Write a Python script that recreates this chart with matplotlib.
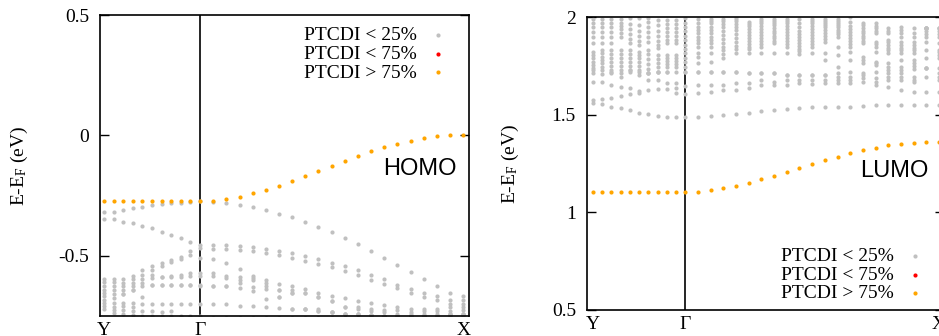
import matplotlib
matplotlib.use("Agg")
import matplotlib.pyplot as plt

plt.rcParams['font.family'] = ['Liberation Serif', 'DejaVu Serif']
plt.rcParams['mathtext.fontset'] = 'custom'
plt.rcParams['mathtext.rm'] = 'Liberation Serif'
plt.rcParams['mathtext.it'] = 'Liberation Serif:italic'
plt.rcParams['axes.unicode_minus'] = False

# ---------------- data ----------------
k_path = [0.000, 0.100, 0.200, 0.300, 0.400, 0.500, 0.600, 0.700, 0.800, 0.900, 1.000,
          1.137, 1.274, 1.411, 1.548, 1.685, 1.822, 1.959, 2.096, 2.233, 2.370,
          2.507, 2.644, 2.781, 2.918, 3.055, 3.192, 3.329, 3.466, 3.603, 3.740]
k_tick_pos = [0.0, 1.0, 3.74]
k_tick_labels = ['Y', 'Γ', 'X']

legend_labels = ['PTCDI < 25%', 'PTCDI < 75%', 'PTCDI > 75%']

# HOMO panel
homo_orange = [-0.271, -0.271, -0.271, -0.271, -0.271, -0.271, -0.271, -0.271, -0.271, -0.271, -0.271,
               -0.271, -0.263, -0.254, -0.241, -0.226, -0.209, -0.190, -0.169, -0.149, -0.127,
               -0.106, -0.085, -0.066, -0.048, -0.034, -0.022, -0.011, -0.003, 0.000, 0.000]
h_a = [-0.320, -0.317, -0.310, -0.303, -0.296, -0.289, -0.285, -0.282, -0.280, -0.277, -0.273,
       -0.276, -0.280, -0.289, -0.299, -0.310, -0.326, -0.340, -0.361, -0.381, -0.403,
       -0.428, -0.452, -0.481, -0.508, -0.537, -0.566, -0.596, -0.626, -0.653, -0.668]
h_b = [-0.346, -0.348, -0.358, -0.365, -0.376, -0.386, -0.402, -0.413, -0.427, -0.443, -0.455,
       -0.455, -0.455, -0.459, -0.465, -0.472, -0.482, -0.489, -0.500, -0.514, -0.528,
       -0.544, -0.561, -0.580, -0.596, -0.620, -0.638, -0.654, -0.668, -0.684, -0.684]
h_c = [-0.596, -0.596, -0.596, -0.583, -0.558, -0.544, -0.530, -0.519, -0.503, -0.482, -0.468,
       -0.472, -0.472, -0.476, -0.482, -0.489, -0.496, -0.510, -0.521, -0.534, -0.547,
       -0.565, -0.578, -0.599, -0.616, -0.635, -0.654, -0.671, -0.684, -0.702, -0.702]
h_d = [-0.610, -0.610, -0.613, -0.596, -0.579, -0.558, -0.541, -0.525, -0.514, -0.496, -0.510,
       -0.514, -0.528, -0.554, -0.583, -0.602, -0.616, -0.627, -0.638, -0.654, -0.665,
       -0.675, -0.688, -0.698, -0.706, -0.712, -0.720, -0.720, -0.720, -0.712, -0.712]
h_e = [-0.627, -0.627, -0.627, -0.613, -0.596, -0.579, -0.588, -0.585, -0.579, -0.572, -0.572,
       -0.572, -0.583, -0.588, -0.592, -0.613, -0.640, -0.640, -0.654, -0.671, -0.688,
       -0.712, -0.712, -0.720, -0.726, -0.726, -0.734, -0.730, -0.730, -0.730, -0.726]
h_f = [-0.640, -0.640, -0.640, -0.627, -0.613, -0.592, -0.590, -0.587, -0.588, -0.583, -0.585,
       -0.583, -0.592, -0.599, -0.602, -0.624, -0.671, -0.654, -0.723, -0.730, -0.734,
       -0.740, -0.740, -0.744, -0.748, -0.748, -0.748, -0.740, -0.740, -0.740, -0.740]
h_g = [-0.654, -0.657, -0.657, -0.640, -0.627, -0.620, -0.620, -0.620, -0.620, -0.620, -0.620,
       -0.624, -0.627, -0.613, -0.629, -0.638, -0.640, -0.654, -0.654, -0.671, -0.688,
       -0.712, -0.720, -0.730, -0.734, -0.740, -0.740, -0.748, -0.748, -0.740, -0.740]
h_g2 = [-0.668, -0.675, -0.657, -0.640, -0.671, -0.620, -0.620, -0.620, -0.620, -0.620, -0.624,
        -0.624, -0.627, -0.634, -0.647, -0.679, -0.671, -0.719, -0.723, -0.723, -0.734,
        -0.740, -0.740, -0.744, -0.748, -0.748, -0.748, -0.748, -0.748, -0.748, -0.748]
h_h = [-0.682, -0.696, -0.696, -0.696, -0.702, -0.702, -0.702, -0.702, -0.702, -0.702, -0.702,
       -0.702, -0.702, -0.709, -0.709, -0.712, -0.716, -0.719, -0.723, -0.730, -0.734,
       -0.740, -0.740, -0.744, -0.748, -0.748, -0.748, -0.748, -0.748, -0.740, -0.740]
h_i = [-0.696, -0.712, -0.709, -0.712, -0.730, -0.730, -0.734, -0.730, -0.748, -0.748, -0.748,
       -0.760, -0.760, -0.760, -0.760, -0.760, -0.760, -0.760, -0.760, -0.760, -0.760,
       -0.760, -0.760, -0.760, -0.760, -0.760, -0.760, -0.760, -0.760, -0.760, -0.760]
h_j = [-0.709, -0.726, -0.726, -0.730, -0.748, -0.748, -0.748, -0.748, -0.760, -0.760, -0.760,
       -0.760, -0.760, -0.760, -0.760, -0.760, -0.760, -0.760, -0.760, -0.760, -0.760,
       -0.760, -0.760, -0.760, -0.760, -0.760, -0.760, -0.760, -0.760, -0.760, -0.760]
h_k = [-0.723, -0.737, -0.740, -0.745, -0.760, -0.760, -0.760, -0.760, -0.760, -0.760, -0.760,
       -0.760, -0.760, -0.760, -0.760, -0.760, -0.760, -0.760, -0.760, -0.760, -0.760,
       -0.760, -0.760, -0.760, -0.760, -0.760, -0.760, -0.760, -0.760, -0.760, -0.760]
homo_grey = [h_a, h_b, h_c, h_d, h_e, h_f, h_g, h_g2, h_h, h_i, h_j, h_k]

# LUMO panel
lumo_orange = [1.106, 1.106, 1.106, 1.106, 1.106, 1.106, 1.106, 1.106, 1.106, 1.106, 1.105,
               1.106, 1.113, 1.124, 1.137, 1.153, 1.170, 1.188, 1.207, 1.228, 1.248,
               1.267, 1.286, 1.303, 1.318, 1.332, 1.344, 1.351, 1.358, 1.361, 1.363]
l_1 = [1.559, 1.554, 1.542, 1.534, 1.525, 1.511, 1.503, 1.494, 1.491, 1.487, 1.487,
       1.491, 1.494, 1.499, 1.504, 1.511, 1.522, 1.525, 1.530, 1.534, 1.539,
       1.539, 1.542, 1.542, 1.545, 1.551, 1.551, 1.551, 1.551, 1.551, 1.551]
l_2 = [1.576, 1.580, 1.588, 1.597, 1.605, 1.610, 1.628, 1.631, 1.631, 1.610, 1.607,
       1.610, 1.619, 1.627, 1.627, 1.636, 1.653, 1.653, 1.653, 1.662, 1.658,
       1.662, 1.662, 1.662, 1.670, 1.653, 1.641, 1.627, 1.619, 1.619, 1.619]
l_3 = [1.670, 1.670, 1.653, 1.641, 1.636, 1.624, 1.679, 1.679, 1.662, 1.636, 1.648,
       1.653, 1.653, 1.653, 1.665, 1.665, 1.679, 1.670, 1.679, 1.679, 1.679,
       1.679, 1.679, 1.679, 1.687, 1.670, 1.679, 1.679, 1.670, 1.696, 1.679]
l_4 = [1.713, 1.710, 1.713, 1.696, 1.720, 1.704, 1.713, 1.722, 1.722, 1.665, 1.722,
       1.721, 1.721, 1.721, 1.721, 1.713, 1.713, 1.713, 1.704, 1.704, 1.705,
       1.705, 1.696, 1.696, 1.705, 1.687, 1.696, 1.696, 1.679, 1.739, 1.696]
l_5 = [1.730, 1.730, 1.720, 1.715, 1.730, 1.720, 1.713, 1.722, 1.722, 1.722, 1.722,
       1.721, 1.721, 1.721, 1.721, 1.713, 1.713, 1.713, 1.704, 1.704, 1.705,
       1.705, 1.713, 1.721, 1.713, 1.721, 1.713, 1.713, 1.696, 1.739, 1.713]
c_01 = [1.739, 1.747, 1.730, 1.730, 1.730, 1.730, 1.713, 1.722, 1.747, 1.747, 1.747,
        1.764, 1.773, 1.790, 1.815, 1.815, 1.815, 1.815, 1.815, 1.810, 1.815,
        1.781, 1.747, 1.781, 1.764, 1.756, 1.730, 1.730, 1.735, 1.739, 1.739]
c_02 = [1.756, 1.764, 1.750, 1.750, 1.750, 1.750, 1.735, 1.745, 1.762, 1.762, 1.770,
        1.798, 1.815, 1.810, 1.835, 1.835, 1.850, 1.867, 1.850, 1.825, 1.850,
        1.815, 1.807, 1.824, 1.781, 1.765, 1.747, 1.747, 1.750, 1.790, 1.790]
c_03 = [1.773, 1.781, 1.770, 1.770, 1.770, 1.770, 1.760, 1.765, 1.777, 1.777, 1.792,
        1.815, 1.850, 1.830, 1.855, 1.850, 1.865, 1.880, 1.865, 1.840, 1.865,
        1.875, 1.850, 1.850, 1.798, 1.773, 1.764, 1.781, 1.765, 1.832, 1.805]
c_04 = [1.790, 1.798, 1.790, 1.790, 1.790, 1.790, 1.785, 1.785, 1.792, 1.792, 1.815,
        1.850, 1.867, 1.850, 1.875, 1.865, 1.880, 1.893, 1.880, 1.855, 1.880,
        1.890, 1.900, 1.865, 1.867, 1.824, 1.815, 1.815, 1.780, 1.875, 1.820]
c_05 = [1.807, 1.815, 1.810, 1.810, 1.810, 1.808, 1.810, 1.807, 1.807, 1.807, 1.838,
        1.867, 1.884, 1.870, 1.895, 1.880, 1.895, 1.906, 1.895, 1.870, 1.895,
        1.905, 1.912, 1.880, 1.880, 1.850, 1.830, 1.830, 1.815, 1.901, 1.832]
c_06 = [1.824, 1.833, 1.833, 1.833, 1.833, 1.824, 1.833, 1.841, 1.867, 1.867, 1.860,
        1.884, 1.901, 1.890, 1.915, 1.895, 1.910, 1.919, 1.910, 1.885, 1.910,
        1.920, 1.924, 1.895, 1.893, 1.862, 1.845, 1.845, 1.830, 1.915, 1.867]
c_07 = [1.867, 1.867, 1.867, 1.901, 1.867, 1.858, 1.875, 1.858, 1.885, 1.885, 1.882,
        1.901, 1.918, 1.910, 1.935, 1.910, 1.925, 1.932, 1.925, 1.900, 1.925,
        1.935, 1.936, 1.910, 1.906, 1.875, 1.860, 1.860, 1.845, 1.930, 1.901]
c_08 = [1.901, 1.901, 1.901, 1.920, 1.890, 1.880, 1.900, 1.880, 1.905, 1.905, 1.905,
        1.918, 1.935, 1.930, 1.950, 1.925, 1.940, 1.945, 1.940, 1.915, 1.940,
        1.950, 1.948, 1.925, 1.919, 1.918, 1.875, 1.875, 1.860, 1.944, 1.915]
c_09 = [1.925, 1.925, 1.925, 1.940, 1.915, 1.905, 1.925, 1.905, 1.925, 1.925, 1.928,
        1.935, 1.952, 1.950, 1.965, 1.940, 1.955, 1.958, 1.955, 1.930, 1.955,
        1.960, 1.960, 1.940, 1.932, 1.930, 1.884, 1.901, 1.875, 1.944, 1.930]
c_10 = [1.950, 1.950, 1.950, 1.955, 1.940, 1.930, 1.950, 1.930, 1.945, 1.945, 1.950,
        1.952, 1.970, 1.965, 1.980, 1.955, 1.970, 1.970, 1.970, 1.950, 1.970,
        1.970, 1.970, 1.955, 1.945, 1.943, 1.918, 1.918, 1.901, 1.944, 1.944]
c_11 = [1.970, 1.970, 1.970, 1.970, 1.965, 1.960, 1.975, 1.960, 1.965, 1.965, 1.972,
        1.970, 1.980, 1.980, 1.990, 1.965, 1.980, 1.980, 1.980, 1.970, 1.980,
        1.980, 1.980, 1.975, 1.958, 1.956, 1.931, 1.935, 1.922, 1.944, 1.944]
c_12 = [1.990, 1.990, 1.990, 1.990, 1.995, 1.995, 1.995, 1.986, 1.986, 1.986, 1.995,
        1.990, 1.990, 1.990, 2.000, 1.975, 1.990, 1.990, 1.990, 1.990, 1.990,
        1.990, 1.990, 2.000, 1.970, 1.969, 1.944, 1.952, 1.944, 1.944, 1.944]
lumo_grey = [l_1, l_2, l_3, l_4, l_5, c_01, c_02, c_03, c_04, c_05, c_06,
             c_07, c_08, c_09, c_10, c_11, c_12]

homo_yticks = [-0.5, 0.0, 0.5]
homo_yticklabels = ['-0.5', '0', '0.5']
lumo_yticks = [0.5, 1.0, 1.5, 2.0]
lumo_yticklabels = ['0.5', '1', '1.5', '2']

# ---------------- styling ----------------
GREY = '#c0c0c0'
RED = '#ff0000'
ORANGE = '#ffa500'
DOT = 9
FS = 14

W, H = 939, 336
fig = plt.figure(figsize=(W / 100, H / 100), dpi=100)
ax1 = fig.add_axes([100 / W, 20 / H, 369 / W, 301 / H])
ax2 = fig.add_axes([587 / W, 26 / H, 357 / W, 292.7 / H])


def draw_panel(ax, grey_bands, orange_band, xlim, ylim, yticks, yticklabels):
    xs, ys = [], []
    for band in grey_bands:
        xs.extend(k_path)
        ys.extend(band)
    ax.scatter(xs, ys, s=DOT, color=GREY, linewidths=0, label=legend_labels[0], zorder=2)
    ax.scatter([], [], s=DOT, color=RED, linewidths=0, label=legend_labels[1])
    ax.scatter(k_path, orange_band, s=DOT, color=ORANGE, linewidths=0,
               label=legend_labels[2], zorder=3)
    ax.axvline(k_tick_pos[1], color='black', lw=1.2, zorder=1)
    ax.set_xlim(*xlim)
    ax.set_ylim(*ylim)
    ax.set_xticks(k_tick_pos)
    ax.set_xticklabels(k_tick_labels)
    ax.set_yticks(yticks)
    ax.set_yticklabels(yticklabels)
    ax.tick_params(axis='y', direction='in', length=6.5, width=1.0, right=True,
                   labelsize=FS, pad=8)
    ax.tick_params(axis='x', length=0, labelsize=FS, pad=4)
    for sp in ax.spines.values():
        sp.set_linewidth(1.2)
    ax.set_ylabel(r'E-E$_\mathrm{F}$ (eV)', fontsize=FS)


draw_panel(ax1, homo_grey, homo_orange, (-0.042, 3.80), (-0.75, 0.5),
           homo_yticks, homo_yticklabels)
draw_panel(ax2, lumo_grey, lumo_orange, (-0.062, 3.794), (0.5, 2.0),
           lumo_yticks, lumo_yticklabels)

ax1.yaxis.set_label_coords(-0.19, 0.5)
ax2.yaxis.set_label_coords(-0.185, 0.5)

ax1.text(0.767, 0.468, 'HOMO', transform=ax1.transAxes, family='Liberation Sans',
         fontsize=17, ha='left', va='baseline')
ax2.text(0.765, 0.454, 'LUMO', transform=ax2.transAxes, family='Liberation Sans',
         fontsize=17, ha='left', va='baseline')

leg_kw = dict(markerfirst=False, frameon=False, fontsize=FS, handlelength=1.0,
              handletextpad=0.6, labelspacing=0.05, borderpad=0, borderaxespad=0,
              scatterpoints=1)
ax1.legend(loc='upper right', bbox_to_anchor=(0.942, 0.961), **leg_kw)
ax2.legend(loc='lower right', bbox_to_anchor=(0.946, 0.026), **leg_kw)

fig.savefig('out.png', dpi=100)
